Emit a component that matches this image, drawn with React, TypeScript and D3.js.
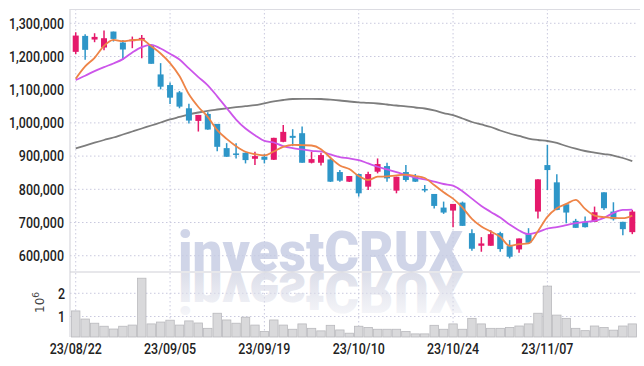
import * as d3 from "d3";
import React from "react";

const dates = [
  "23/08/22","23/08/23","23/08/24","23/08/25","23/08/28","23/08/29","23/08/30","23/08/31",
  "23/09/01","23/09/04","23/09/05","23/09/06","23/09/07","23/09/08","23/09/11","23/09/12",
  "23/09/13","23/09/14","23/09/15","23/09/18","23/09/19","23/09/20","23/09/21","23/09/22",
  "23/09/25","23/09/26","23/09/27","23/10/04","23/10/05","23/10/06","23/10/10","23/10/11",
  "23/10/12","23/10/13","23/10/16","23/10/17","23/10/18","23/10/19","23/10/20","23/10/23",
  "23/10/24","23/10/25","23/10/26","23/10/27","23/10/30","23/10/31","23/11/01","23/11/02",
  "23/11/03","23/11/06","23/11/07","23/11/08","23/11/09","23/11/10","23/11/13","23/11/14",
  "23/11/15","23/11/16","23/11/17","23/11/20",
];

const opens = [
  1214000,1262000,1251000,1227000,1275000,1242000,1246000,1250000,1235000,1146000,
  1114000,1092000,1044000,1006000,1027000,997000,924000,908000,910000,892000,
  898000,889000,943000,961000,969000,880000,880000,890000,852000,823000,
  846000,808000,853000,870000,796000,852000,838000,801000,786000,745000,
  736000,760000,668000,630000,630000,668000,629000,619000,665000,733000,
  873000,821000,755000,705000,702000,702000,791000,733000,702000,671000,
];
const highs = [
  1273000,1267000,1270000,1278000,1275000,1250000,1260000,1265000,1237000,1180000,
  1122000,1096000,1058000,1024000,1032000,997000,939000,939000,911000,913000,
  906000,955000,994000,981000,989000,913000,910000,893000,858000,840000,
  847000,853000,893000,880000,838000,873000,846000,813000,786000,763000,
  756000,763000,680000,656000,677000,672000,647000,652000,683000,830000,
  934000,845000,755000,711000,718000,748000,791000,761000,702000,738000,
];
const lows = [
  1207000,1190000,1243000,1219000,1245000,1190000,1225000,1195000,1178000,1101000,
  1057000,1044000,998000,974000,979000,915000,898000,893000,878000,873000,
  878000,888000,942000,930000,880000,878000,872000,822000,823000,822000,
  778000,798000,848000,823000,788000,823000,822000,791000,742000,726000,
  686000,690000,615000,612000,630000,612000,592000,609000,639000,712000,
  798000,737000,698000,684000,685000,702000,738000,706000,662000,665000,
];
const closes = [
  1263000,1220000,1259000,1255000,1253000,1221000,1251000,1256000,1178000,1109000,
  1076000,1049000,1007000,1024000,980000,928000,898000,905000,888000,900000,
  889000,955000,973000,955000,880000,891000,903000,823000,826000,840000,
  788000,846000,876000,833000,838000,828000,823000,799000,750000,730000,
  756000,690000,621000,637000,665000,620000,597000,652000,639000,830000,
  858000,738000,730000,684000,686000,731000,743000,710000,680000,733000,
];
const volumes = [
  1240000,890000,710000,580000,460000,580000,630000,2650000,680000,760000,
  840000,630000,810000,720000,490000,1140000,850000,710000,970000,630000,
  350000,850000,630000,450000,680000,490000,380000,620000,420000,280000,
  580000,530000,450000,450000,450000,350000,250000,250000,620000,450000,
  680000,450000,920000,680000,490000,490000,530000,590000,680000,1140000,
  2310000,1060000,920000,490000,390000,590000,530000,410000,590000,680000,
];
const maShort = [
  1133000,1170000,1196000,1232000,1250000,1246000,1249000,1251000,1231000,1209000,
  1180000,1141000,1086000,1048000,1018000,978000,952000,930000,913000,906000,
  902000,914000,928000,934000,933000,932000,921000,895000,872000,861000,
  840000,828000,838000,839000,842000,844000,840000,834000,813000,791000,
  772000,745000,711000,688000,673000,657000,630000,635000,637000,674000,
  717000,743000,756000,768000,741000,721000,716000,714000,713000,721000,
];
const maMid = [
  1129000,1142000,1156000,1168000,1179000,1192000,1212000,1228000,1235000,1224000,
  1208000,1191000,1164000,1138000,1113000,1080000,1045000,1010000,983000,963000,
  946000,941000,930000,924000,920000,916000,914000,905000,897000,893000,
  888000,878000,868000,860000,852000,843000,835000,830000,823000,816000,
  811000,794000,772000,750000,732000,715000,694000,676000,665000,671000,
  682000,686000,692000,698000,702000,705000,714000,729000,738000,739000,
];
const maLong = [
  923500,931900,940400,948500,956000,965100,974100,983100,992200,1001200,
  1010300,1017800,1025300,1031300,1036500,1040400,1044000,1047300,1050300,1053300,
  1059000,1064500,1069000,1072000,1072600,1072600,1072000,1069900,1067500,1064500,
  1062100,1060500,1058400,1055400,1052400,1050000,1046400,1043400,1037400,1029800,
  1023200,1013300,1002700,995200,987700,977100,968100,960600,953000,948500,
  945500,939500,930400,922300,915400,910800,906300,901800,894300,885200,
];

const priceTicks = [600000, 700000, 800000, 900000, 1000000, 1100000, 1200000, 1300000];
const volumeTicks = [1000000, 2000000];
const dateTicks = ["23/08/22", "23/09/05", "23/09/19", "23/10/10", "23/10/24", "23/11/07"];

const UP = "#e5196b";
const DOWN = "#2e96c8";
const GRID = "#c9c9de";
const labelFont = "Roboto, 'DejaVu Sans', sans-serif";
const narrow = 0.83;

export default function App() {
  const width = 644;
  const height = 366;
  const left = 70;
  const right = 637;
  const top = 9;
  const priceBottom = 272;
  const volBottom = 337;

  const rows = dates.map((d, i) => ({
    date: d, open: opens[i], high: highs[i], low: lows[i], close: closes[i],
    vol: volumes[i], s: maShort[i], m: maMid[i], l: maLong[i],
  }));

  const x = d3.scaleBand().domain(dates).range([left + 1, right]).paddingInner(0).paddingOuter(0);
  const cx = (d: string) => (x(d) as number) + x.bandwidth() / 2;
  const y = d3.scaleLinear().domain([551000, 1343000]).range([priceBottom, top]);
  const yv = d3.scaleLinear().domain([116000, 2918000]).range([volBottom, priceBottom]);

  const line = (key: "s" | "m" | "l") =>
    d3.line<any>().x((d) => cx(d.date)).y((d) => y(d[key])).curve(d3.curveMonotoneX)(rows) as string;

  const fmt = d3.format(",");
  const bodyW = 6;

  return (
    <svg width={width} height={height} style={{ position: "absolute", left: 0, top: 0, background: "#fff" }}>
      <defs>
        <linearGradient id="refl" gradientUnits="userSpaceOnUse" x1="0" y1={priceBottom} x2="0" y2={priceBottom - 48}>
          <stop offset="0" stopColor="#dadce8" stopOpacity="0.95" />
          <stop offset="1" stopColor="#dadce8" stopOpacity="0.2" />
        </linearGradient>
        <clipPath id="volClip">
          <rect x={left} y={priceBottom} width={right - left} height={volBottom - priceBottom} />
        </clipPath>
        <clipPath id="priceClip">
          <rect x={left} y={top} width={right - left + 3} height={priceBottom - top} />
        </clipPath>
      </defs>

      {/* grid */}
      {priceTicks.map((t) => (
        <line key={t} x1={left} x2={right} y1={y(t)} y2={y(t)} stroke={GRID} strokeDasharray="1.5,2.5" />
      ))}
      {volumeTicks.map((t) => (
        <line key={t} x1={left} x2={right} y1={yv(t)} y2={yv(t)} stroke={GRID} strokeDasharray="1.5,2.5" />
      ))}
      {dateTicks.map((d) => (
        <line key={d} x1={cx(d)} x2={cx(d)} y1={top} y2={volBottom} stroke={GRID} strokeDasharray="1.5,2.5" />
      ))}

      {/* watermark */}
      <text x={178} y={271} fontFamily="Roboto, 'DejaVu Sans', sans-serif" fontWeight={900}
        fontSize={56} fill="#c3c9e2" fillOpacity={0.78} textLength={285} lengthAdjust="spacingAndGlyphs">
        investCRUX
      </text>
      <g clipPath="url(#volClip)">
        <g transform={`translate(0,${2 * priceBottom}) scale(1,-1)`}>
          <text x={178} y={271} fontFamily="Roboto, 'DejaVu Sans', sans-serif" fontWeight={900}
            fontSize={56} fill="url(#refl)" textLength={285} lengthAdjust="spacingAndGlyphs">
            investCRUX
          </text>
        </g>
      </g>

      {/* frame */}
      <line x1={left} x2={left} y1={top} y2={volBottom} stroke="#cfcfd6" />
      <line x1={left} x2={right + 3} y1={top + 0.5} y2={top + 0.5} stroke="#dcdce2" />
      <line x1={left} x2={right + 3} y1={priceBottom} y2={priceBottom} stroke="#cfcfd6" />

      {/* volume */}
      {rows.map((d) => (
        <rect key={d.date} x={(x(d.date) as number) + 0.5} width={x.bandwidth() - 1}
          y={yv(d.vol)} height={volBottom - yv(d.vol)} fill="#d9d9db" stroke="#b9b9bd" strokeWidth={0.8} />
      ))}

      <g clipPath="url(#priceClip)">
        {/* long MA */}
        <path d={line("l")} fill="none" stroke="#7d7d7d" strokeWidth={1.8} />

        {/* candles */}
        {rows.map((d) => {
          const up = d.close >= d.open;
          const c = up ? UP : DOWN;
          const yTop = y(Math.max(d.open, d.close));
          const yBot = y(Math.min(d.open, d.close));
          return (
            <g key={d.date}>
              <line x1={cx(d.date)} x2={cx(d.date)} y1={y(d.high)} y2={y(d.low)} stroke={c} strokeWidth={1.5} />
              <rect x={cx(d.date) - bodyW / 2} width={bodyW} y={yTop} height={Math.max(1.5, yBot - yTop)} fill={c} />
            </g>
          );
        })}

        <path d={line("m")} fill="none" stroke="#cc55ea" strokeWidth={1.8} />
        <path d={line("s")} fill="none" stroke="#ee8447" strokeWidth={1.8} />
      </g>

      {/* price labels */}
      {priceTicks.map((t) => (
        <text key={t} transform={`translate(64,${y(t)}) scale(${narrow},1)`} dy="0.35em" textAnchor="end"
          fontFamily={labelFont} fontWeight={500} fontSize={15} fill="#222">
          {fmt(t)}
        </text>
      ))}
      {volumeTicks.map((t) => (
        <text key={t} transform={`translate(65,${yv(t)}) scale(${narrow},1)`} dy="0.35em" textAnchor="end"
          fontFamily={labelFont} fontWeight={500} fontSize={15} fill="#222">
          {t / 1e6}
        </text>
      ))}
      <text transform="translate(43.5,313) rotate(-90)" fontFamily="'DejaVu Sans', sans-serif" fontSize={12} fill="#444">
        10<tspan dy={-5} fontSize={9}>6</tspan>
      </text>

      {/* date labels */}
      {dateTicks.map((d) => (
        <text key={d} transform={`translate(${cx(d)},354) scale(${narrow},1)`} textAnchor="middle"
          fontFamily={labelFont} fontWeight={500} fontSize={15} fill="#222">
          {d}
        </text>
      ))}
    </svg>
  );
}
